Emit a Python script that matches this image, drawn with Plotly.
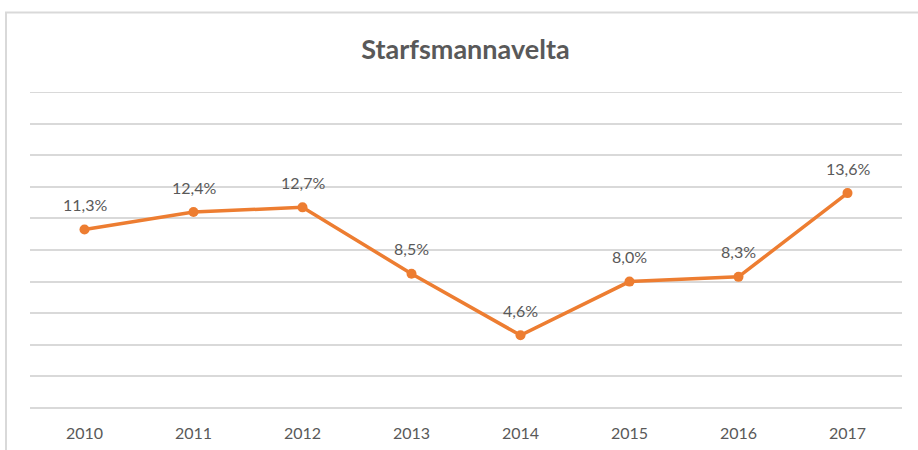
import plotly.graph_objects as go

years = ["2010", "2011", "2012", "2013", "2014", "2015", "2016", "2017"]
values = [11.3, 12.4, 12.7, 8.5, 4.6, 8.0, 8.3, 13.6]
labels = ["11,3%", "12,4%", "12,7%", "8,5%", "4,6%", "8,0%", "8,3%", "13,6%"]

orange = "#ED7D31"
gray_text = "#595959"
grid = "#D9D9D9"
font_family = "Lato, Open Sans, sans-serif"
y_max = 20

fig = go.Figure()
fig.add_trace(go.Scatter(
    x=years, y=values, mode="lines+markers",
    line=dict(color=orange, width=3.5),
    marker=dict(color=orange, size=10),
    cliponaxis=False,
    hoverinfo="skip",
))

# category axis: annotation x given as category index
annotations = [
    dict(x=i, y=v, text=t, showarrow=False, yshift=25, xref="x", yref="y",
         font=dict(family=font_family, size=16, color=gray_text))
    for i, (v, t) in enumerate(zip(values, labels))
]

fig.update_layout(
    width=918, height=450,
    margin=dict(l=30, r=16, t=92, b=42),
    paper_bgcolor="white", plot_bgcolor="white",
    showlegend=False,
    title=dict(
        text="<b>Starfsmannavelta</b>",
        x=0.507, xanchor="center", y=0.891, yanchor="middle",
        font=dict(family=font_family, size=27, color=gray_text),
    ),
    xaxis=dict(
        type="category", categoryorder="array", categoryarray=years,
        range=[-0.5, len(years) - 0.5], automargin=False,
        showgrid=False, showline=False, zeroline=False,
        ticks="", tickfont=dict(family=font_family, size=16, color=gray_text),
        ticklabelstandoff=14,
    ),
    yaxis=dict(
        range=[0, y_max], dtick=2, showgrid=True, gridcolor=grid, gridwidth=1.5,
        showticklabels=False, zeroline=True, zerolinecolor=grid, zerolinewidth=1.5,
        showline=False, ticks="", automargin=False,
    ),
    annotations=annotations,
    shapes=[
        dict(
            type="rect", xref="paper", yref="paper",
            x0=(6 - 30) / 872, x1=(925 - 30) / 872,
            y0=(408 - 460) / 316, y1=(408 - 12.5) / 316,
            line=dict(color="#D9D9D9", width=2), fillcolor="rgba(0,0,0,0)", layer="below",
        ),
        dict(
            type="line", xref="paper", yref="y", x0=0, x1=1, y0=y_max, y1=y_max,
            line=dict(color=grid, width=2), layer="below",
        ),
    ],
)

fig.write_html("out.html", config={"displayModeBar": False},
               post_script="document.body.style.margin='0';")
